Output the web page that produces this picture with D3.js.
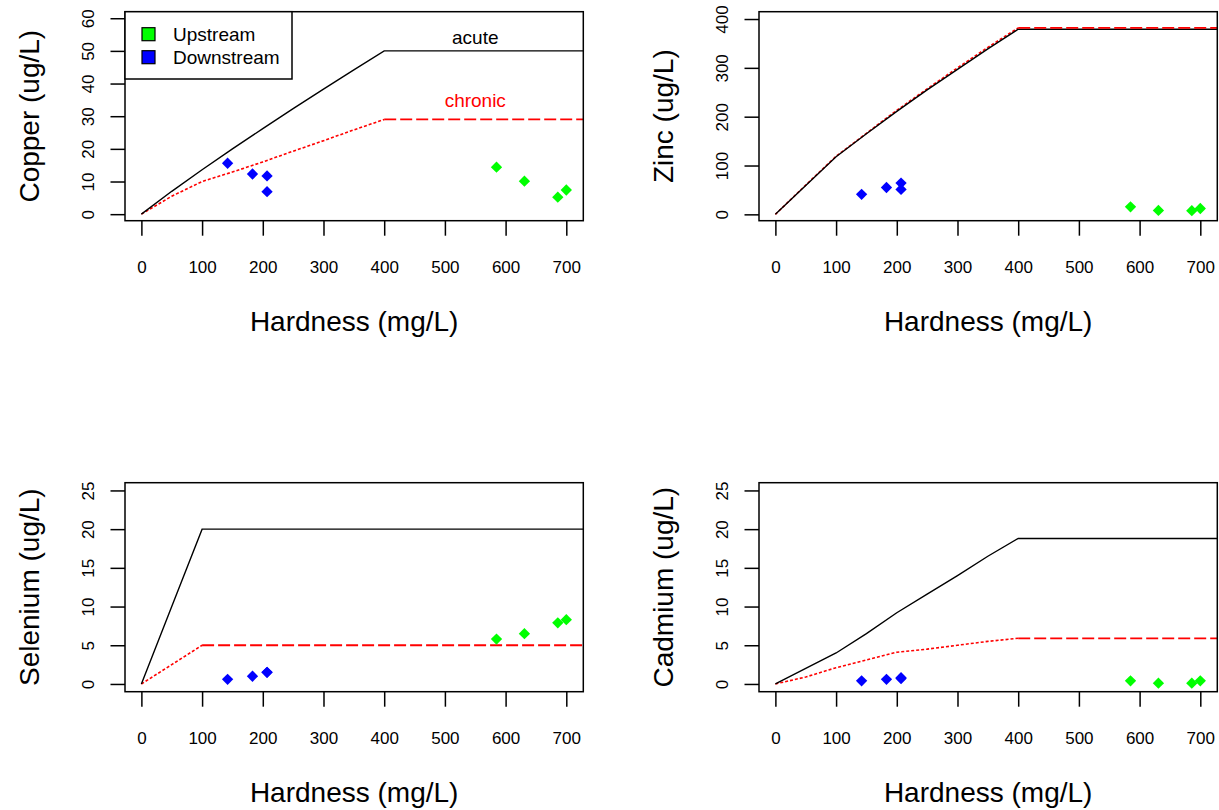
<!DOCTYPE html>
<html>
<head>
<meta charset="utf-8">
<script src="https://cdn.jsdelivr.net/npm/d3@7"></script>
<style>
  body { margin: 0; background: #fff; }
  svg { display: block; font-family: "Liberation Sans", Arial, sans-serif; }
  .tick text { font-size: 17px; }
</style>
</head>
<body>
<svg id="chart" width="1219" height="810"></svg>
<script>
// ---------------- data ----------------
const xTicks = [0, 100, 200, 300, 400, 500, 600, 700];
const hardnessDown = [142, 183, 207, 207];
const hardnessUp = [585, 631, 686, 700];

const copperDown = [15.6, 12.3, 11.7, 6.9];
const copperUp = [14.4, 10.1, 5.2, 7.4];
const zincDown = [41, 55, 64, 51];
const zincUp = [15.5, 8, 7.5, 12];
const seleniumDown = [0.6, 1.0, 1.5, 1.5];
const seleniumUp = [5.8, 6.5, 7.9, 8.3];
const cadmiumDown = [0.4, 0.6, 0.8, 0.7];
const cadmiumUp = [0.4, 0.1, 0.1, 0.4];

// criteria curves
const critHardness = [0, 50, 100, 150, 200, 250, 300, 350, 400, 750];
const copperAcute = [0, 7, 13.6, 20, 26.2, 32.3, 38.3, 44.2, 50, 50];
const copperChronic = [0, 5.5, 10, 12.9, 16, 19.3, 22.5, 25.8, 29, 29];
const zincAcute = [0, 59, 118, 165, 211, 255, 297, 339, 379, 379];
const zincChronic = [0, 60, 119, 166, 213, 257, 300, 342, 382, 382];
const seleniumAcute = [0, 10, 20, 20, 20, 20, 20, 20, 20, 20];
const seleniumChronic = [0, 2.5, 5, 5, 5, 5, 5, 5, 5, 5];
const cadmiumAcute = [0, 2, 4, 6.5, 9.2, 11.6, 14, 16.5, 18.8, 18.8];
const cadmiumChronic = [0, 0.9, 2.1, 3.1, 4.1, 4.5, 5.0, 5.5, 5.9, 5.9];

const copperTicks = [0, 10, 20, 30, 40, 50, 60];
const zincTicks = [0, 100, 200, 300, 400];
const seleniumTicks = [0, 5, 10, 15, 20, 25];
const cadmiumTicks = [0, 5, 10, 15, 20, 25];

const legendLabels = ["Upstream", "Downstream"];
const xTitle = "Hardness (mg/L)";

// ---------------- layout ----------------
const svg = d3.select("#chart");
svg.append("rect").attr("width", 1219).attr("height", 810).attr("fill", "#fff");

const BOX_W = 458.3, BOX_H = 209;
const colUp = "#00ff00", colDown = "#0000ff", colRed = "#ff0000";

const panels = [
  {title: "Copper (ug/L)", left: 125, top: 11.7, ydom: [-2, 62], ticks: copperTicks,
   down: copperDown, up: copperUp, acute: copperAcute, chronic: copperChronic, legend: true},
  {title: "Zinc (ug/L)", left: 759, top: 11.7, ydom: [-13, 415], ticks: zincTicks,
   down: zincDown, up: zincUp, acute: zincAcute, chronic: zincChronic},
  {title: "Selenium (ug/L)", left: 125, top: 482.7, ydom: [-1, 26], ticks: seleniumTicks,
   down: seleniumDown, up: seleniumUp, acute: seleniumAcute, chronic: seleniumChronic},
  {title: "Cadmium (ug/L)", left: 759, top: 482.7, ydom: [-1, 26], ticks: cadmiumTicks,
   down: cadmiumDown, up: cadmiumUp, acute: cadmiumAcute, chronic: cadmiumChronic}
];

const diamond = d3.symbol().type(d3.symbolSquare).size(64);

panels.forEach((p, i) => {
  const g = svg.append("g").attr("transform", `translate(${p.left},${p.top})`);
  const x = d3.scaleLinear().domain([-27, 728]).range([0, BOX_W]);
  const y = d3.scaleLinear().domain(p.ydom).range([BOX_H, 0]);

  const clipId = "clip" + i;
  g.append("clipPath").attr("id", clipId)
    .append("rect").attr("width", BOX_W).attr("height", BOX_H);

  // axes
  const xa = g.append("g").attr("transform", `translate(0,${BOX_H})`)
    .call(d3.axisBottom(x).tickValues(xTicks).tickSize(15).tickPadding(25).tickFormat(d3.format("d")));
  xa.attr("font-size", 17).attr("font-family", "Liberation Sans, Arial, sans-serif");
  xa.select(".domain").remove();
  xa.selectAll("line").attr("stroke", "#000").attr("stroke-width", 1.5);
  xa.selectAll("text").attr("fill", "#000");

  const ya = g.append("g")
    .call(d3.axisLeft(y).tickValues(p.ticks).tickSize(14.5).tickFormat(d3.format("d")));
  ya.attr("font-size", 17).attr("font-family", "Liberation Sans, Arial, sans-serif");
  ya.select(".domain").remove();
  ya.selectAll("line").attr("stroke", "#000").attr("stroke-width", 1.5);
  ya.selectAll("text").attr("fill", "#000")
    .attr("transform", "rotate(-90)").attr("x", 0).attr("y", -37).attr("dy", null)
    .attr("text-anchor", "middle").attr("dominant-baseline", "central");

  // titles
  g.append("text").attr("x", BOX_W / 2).attr("y", BOX_H + 101)
    .attr("text-anchor", "middle").attr("dominant-baseline", "central")
    .attr("font-size", 28).attr("fill", "#000").text(xTitle);
  g.append("text").attr("transform", `translate(${-96},${BOX_H / 2}) rotate(-90)`)
    .attr("text-anchor", "middle").attr("dominant-baseline", "central")
    .attr("font-size", 28).attr("fill", "#000").text(p.title);

  // criteria lines
  const plot = g.append("g").attr("clip-path", `url(#${clipId})`);
  const crit = (vals) => critHardness.map((h, k) => [h, vals[k]]);
  const line = d3.line().x(d => x(d[0])).y(d => y(d[1]));
  const chron = crit(p.chronic);
  const top = d3.max(p.chronic);
  const kFlat = p.chronic.findIndex(v => v === top);
  const rising = chron.slice(0, kFlat + 1);
  const flat = chron.slice(kFlat);

  plot.append("path").attr("d", line(rising)).attr("fill", "none")
    .attr("stroke", colRed).attr("stroke-width", 1.6).attr("stroke-dasharray", "3,2");
  plot.append("path").attr("d", line(crit(p.acute))).attr("fill", "none")
    .attr("stroke", "#000").attr("stroke-width", 1.4);
  plot.append("path").attr("d", line(flat)).attr("fill", "none")
    .attr("stroke", colRed).attr("stroke-width", 1.8).attr("stroke-dasharray", "12,4");

  // points
  const pts = [];
  hardnessDown.forEach((h, k) => pts.push({h, v: p.down[k], c: colDown}));
  hardnessUp.forEach((h, k) => pts.push({h, v: p.up[k], c: colUp}));
  plot.selectAll("path.pt").data(pts).enter().append("path").attr("class", "pt")
    .attr("d", diamond)
    .attr("transform", d => `translate(${x(d.h)},${y(d.v)}) rotate(45)`)
    .attr("fill", d => d.c);

  // box
  g.append("rect").attr("width", BOX_W).attr("height", BOX_H)
    .attr("fill", "none").attr("stroke", "#000").attr("stroke-width", 1.5);

  if (p.legend) {
    // annotations
    g.append("text").attr("x", x(550)).attr("y", y(54)).attr("text-anchor", "middle")
      .attr("dominant-baseline", "central").attr("font-size", 19).attr("fill", "#000").text("acute");
    g.append("text").attr("x", x(550)).attr("y", y(34.7)).attr("text-anchor", "middle")
      .attr("dominant-baseline", "central").attr("font-size", 19).attr("fill", colRed).text("chronic");

    const lg = g.append("g");
    lg.append("rect").attr("x", 0).attr("y", 0).attr("width", 167).attr("height", 67.3)
      .attr("fill", "#fff").attr("stroke", "#000").attr("stroke-width", 1.5);
    const cols = [colUp, colDown];
    legendLabels.forEach((lab, k) => {
      const cy = 22.5 + k * 23;
      lg.append("rect").attr("x", 17).attr("y", cy - 6.5).attr("width", 13).attr("height", 13)
        .attr("fill", cols[k]).attr("stroke", "#000").attr("stroke-width", 1.2);
      lg.append("text").attr("x", 48).attr("y", cy).attr("dominant-baseline", "central")
        .attr("font-size", 19).attr("fill", "#000").text(lab);
    });
  }
});
</script>
</body>
</html>
